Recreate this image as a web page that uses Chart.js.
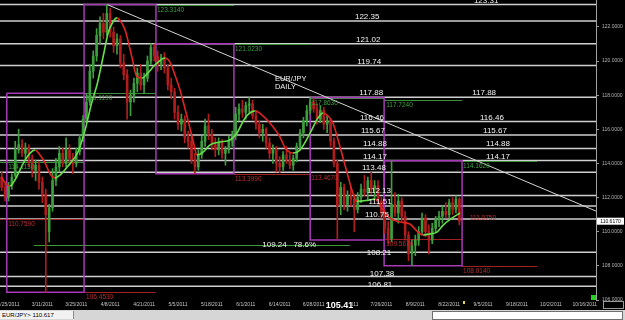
<!DOCTYPE html>
<html>
<head>
<meta charset="utf-8">
<script src="https://cdn.jsdelivr.net/npm/chart.js@4.4.1/dist/chart.umd.min.js"></script>
<style>
  html, body { margin: 0; padding: 0; background: #000; }
  #wrap { position: relative; width: 625px; height: 320px; overflow: hidden; background: #000; }
  #chart { display: block; }
  #status { position: absolute; left: 0; top: 310px; width: 625px; height: 10px; background: #d6d6d6;
            font: 6px "Liberation Sans", Arial, sans-serif; }
  #quote { position: absolute; left: 0; top: 1px; width: 71px; height: 8px; line-height: 8px; padding-left: 2px;
           background: #f2f2f2; border-right: 1px solid #8a8a8a; color: #000; }
  #panel { position: absolute; left: 432px; top: 1px; width: 189px; height: 7px; background: #fff; border: 1px solid #707070; }
</style>
</head>
<body>
<div id="wrap">
  <canvas id="chart" width="625" height="310"></canvas>
  <div id="status"><div id="quote">EUR/JPY&gt; 110.617</div><div id="panel"></div></div>
</div>
<script>
const dateTicks = ["2/25/2011", "3/11/2011", "3/25/2011", "4/8/2011", "4/21/2011", "5/5/2011", "5/18/2011",
  "6/1/2011", "6/14/2011", "6/28/2011", "7/12/2011", "7/26/2011", "8/9/2011", "8/22/2011", "9/5/2011",
  "9/18/2011", "10/2/2011", "10/16/2011"];
const priceTicks = [106, 108, 110, 112, 114, 116, 118, 120, 122];

// daily candles, one per bar
const opens = [113.2, 112.6, 112.0, 112.7, 113.3, 114.8, 115.1, 114.6, 114.9, 114.3, 113.6, 113.9, 112.9, 112.2, 110.0,
  111.4, 113.0, 113.8, 114.6, 114.0, 114.8, 114.3, 114.0, 114.7, 115.5, 116.6, 117.6, 119.4, 120.3, 121.5,
  122.2, 121.7, 122.8, 121.7, 120.9, 121.3, 119.9, 119.2, 117.6, 118.0, 118.7, 119.3, 118.6, 119.0, 120.0,
  120.8, 120.3, 119.8, 120.2, 119.6, 118.6, 118.2, 117.0, 116.3, 116.6, 115.5, 115.3, 114.2, 113.8, 114.5,
  115.3, 116.2, 115.7, 115.1, 114.8, 115.2, 114.6, 114.8, 115.3, 115.6, 116.9, 117.2, 117.0, 117.4, 117.5,
  116.8, 116.3, 115.8, 116.0, 115.2, 114.6, 114.8, 114.0, 113.8, 114.5, 114.2, 113.9, 114.3, 115.0, 115.8,
  116.5, 117.1, 117.6, 117.2, 116.6, 117.1, 116.3, 116.5, 115.3, 114.0, 111.5, 112.6, 111.6, 112.1, 111.9,
  111.3, 112.0, 112.5, 112.3, 113.0, 112.5, 112.7, 111.8, 111.1, 110.2, 109.6, 111.6, 111.1, 111.8, 110.9,
  109.8, 108.7, 109.2, 109.5, 110.0, 110.8, 110.0, 109.5, 110.2, 110.7, 110.9, 111.2, 111.0, 111.7, 111.3, 111.9];
const highs = [113.5, 112.8, 112.9, 113.4, 115.3, 116.0, 115.4, 115.2, 115.1, 114.5, 114.2, 114.1, 113.2, 112.5, 111.6,
  113.7, 114.3, 115.0, 114.9, 115.5, 115.1, 114.6, 114.9, 115.7, 116.8, 118.119, 119.8, 120.6, 121.9, 122.6,
  122.8, 123.314, 123.1, 122.0, 121.6, 121.5, 120.4, 119.5, 118.3, 119.0, 119.6, 119.8, 119.3, 120.3, 121.023,
  121.0, 120.6, 120.4, 120.5, 119.8, 119.0, 118.4, 117.4, 116.9, 116.8, 115.9, 115.6, 114.6, 114.8, 115.6,
  116.6, 116.9, 116.0, 115.5, 115.5, 115.4, 115.0, 115.6, 115.9, 117.3, 117.5, 117.7, 117.6, 117.863, 117.7,
  117.1, 116.5, 116.3, 116.1, 115.5, 115.1, 115.0, 114.4, 114.7, 115.0, 114.6, 114.5, 115.2, 116.0, 116.7,
  117.4, 117.863, 117.8, 117.5, 117.4, 117.3, 116.8, 116.6, 115.5, 114.2, 112.9, 112.8, 112.4, 112.6, 112.2,
  112.3, 112.8, 113.3, 113.2, 113.48, 113.0, 113.0, 112.0, 111.3, 110.6, 114.162, 112.3, 112.2, 112.0, 111.2,
  110.0, 109.5, 109.8, 110.3, 111.1, 111.0, 110.4, 110.5, 110.9, 111.2, 111.5, 111.7, 111.9, 112.0, 112.1, 112.0];
const lows = [112.4, 111.8, 111.8, 112.5, 113.2, 114.6, 114.4, 114.2, 113.8, 113.2, 113.0, 112.5, 111.7, 106.453, 109.4,
  111.2, 112.7, 113.5, 113.8, 113.8, 113.9, 113.4, 113.8, 114.5, 115.3, 116.4, 117.4, 119.0, 120.0, 121.0,
  121.3, 121.5, 121.4, 120.5, 120.4, 119.6, 118.9, 116.6, 116.8, 117.6, 118.2, 118.3, 118.1, 118.8, 119.8,
  120.0, 119.4, 119.5, 119.3, 118.3, 117.8, 116.6, 116.0, 115.9, 115.2, 114.9, 114.0, 113.399, 113.6, 114.3,
  115.0, 115.4, 114.8, 114.4, 114.5, 114.3, 113.9, 114.6, 115.0, 115.4, 116.5, 116.7, 116.6, 117.0, 116.6,
  116.0, 115.5, 115.3, 114.9, 114.3, 114.0, 113.5, 113.467, 113.6, 114.0, 113.7, 113.6, 114.1, 114.8, 115.5,
  116.2, 116.9, 117.0, 116.3, 116.4, 116.0, 115.8, 115.0, 113.8, 109.567, 111.0, 111.3, 111.2, 111.5, 110.0,
  111.1, 111.7, 112.1, 111.9, 112.2, 111.9, 111.6, 110.8, 109.9, 109.3, 109.4, 110.9, 110.5, 110.6, 109.5,
  108.3, 108.014, 108.6, 109.2, 109.8, 109.7, 108.7, 109.3, 110.0, 110.3, 110.5, 110.8, 110.8, 111.0, 111.1, 110.4];
const closes = [112.6, 112.0, 112.7, 113.2, 114.8, 115.1, 114.6, 114.9, 114.3, 113.6, 113.9, 112.9, 112.2, 111.0, 111.4,
  113.0, 113.8, 114.6, 114.0, 114.8, 114.3, 114.0, 114.7, 115.5, 116.6, 117.6, 119.4, 120.3, 121.5, 122.2,
  121.7, 122.8, 121.7, 120.9, 121.3, 119.9, 119.2, 117.6, 118.0, 118.7, 119.3, 118.6, 119.0, 120.0, 120.8,
  120.3, 119.8, 120.2, 119.6, 118.6, 118.2, 117.0, 116.3, 116.6, 115.5, 115.3, 114.2, 113.8, 114.5, 115.3,
  116.2, 115.7, 115.1, 114.8, 115.2, 114.6, 114.8, 115.3, 115.6, 116.9, 117.2, 117.0, 117.4, 117.5, 116.8,
  116.3, 115.8, 116.0, 115.2, 114.6, 114.8, 114.0, 113.8, 114.5, 114.2, 113.9, 114.3, 115.0, 115.8, 116.5,
  117.1, 117.6, 117.2, 116.6, 117.1, 116.3, 116.5, 115.3, 114.0, 111.5, 112.6, 111.6, 112.1, 111.9, 111.3,
  112.0, 112.5, 112.3, 113.0, 112.5, 112.7, 111.8, 111.1, 110.2, 109.6, 111.6, 111.1, 111.8, 110.9, 109.8,
  108.7, 109.2, 109.5, 110.0, 110.8, 110.0, 109.5, 110.2, 110.7, 110.9, 111.2, 111.0, 111.7, 111.3, 111.9, 110.617];

// smoothed average
const maBars = [0, 1, 2.4, 3.9, 5.4, 6.9, 8.4, 9.8, 11.3, 12.8, 14.3, 15.7, 17.2, 19.3, 22.5, 24.6, 26.6, 28.1, 29.9,
  31.4, 32.8, 34, 35.2, 36.4, 38.4, 39.9, 41.4, 42.9, 45.2, 48.2, 49.6, 51.1, 52.6, 54.7, 56.4, 57.6, 59.4, 61.4,
  64.4, 67.3, 69.4, 71.8, 74.7, 76.8, 79.1, 82.1, 83.6, 85.9, 88, 91, 93.3, 94.8, 96.3, 97.7, 99.8, 101.9, 103.3,
  104.8, 107.8, 110.1, 112.5, 114.5, 117.5, 120.4, 122.8, 124.3, 126.3, 128.4, 130.2, 132.8, 135.2];
const maValues = [113.21, 112.86, 112.68, 113.03, 113.62, 114.2, 114.61, 114.79, 114.5, 114.03, 113.38, 113.15, 113.32,
  113.79, 114.67, 115.96, 117.6, 118.6, 120.24, 121.65, 122.29, 122.53, 122.29, 121.82, 120.24, 119.07, 119.0, 119.25,
  119.77, 120.18, 119.95, 119.19, 118.31, 116.72, 115.38, 114.5, 114.67, 115.08, 115.26, 115.38, 115.79, 116.67, 117.08,
  116.84, 116.37, 115.55, 114.91, 114.61, 114.79, 115.79, 116.67, 116.96, 116.78, 116.37, 114.97, 113.44, 112.45,
  111.78, 111.84, 111.92, 111.27, 110.8, 110.57, 110.45, 109.98, 109.81, 109.87, 109.98, 110.39, 110.8, 111.1];

// white fibonacci levels
const fibValues = [123.31, 122.35, 121.02, 119.74, 117.88, 116.46, 115.67, 114.88, 114.17, 113.48, 112.13, 111.51,
  110.75, 108.8, 107.38, 106.81];
const fibTagText = ["123.31", "122.35", "121.02", "119.74", "117.88", "116.46", "115.67", "114.88", "114.17", "113.48",
  "112.13", "111.51", "110.75", "108.21", "107.38", "106.81", "117.88", "116.46", "115.67", "114.88", "114.17"];
const fibTagLevel = [123.31, 122.35, 121.02, 119.74, 117.88, 116.46, 115.67, 114.88, 114.17, 113.48, 112.13, 111.51,
  110.75, 108.5, 107.3, 106.65, 117.88, 116.46, 115.67, 114.88, 114.17];
const fibTagBar = [142.9, 107.8, 108.1, 108.4, 109.0, 109.2, 109.5, 110.1, 110.1, 109.8, 111.3, 111.6, 110.7, 111.3,
  112.2, 111.6, 142.3, 144.6, 145.5, 146.4, 146.4];

// swing high / low marks
const swingLevel = [114.113, 110.759, 118.119, 106.453, 123.314, 121.023, 113.399, 117.863, 113.467, 117.724, 109.567,
  114.162, 108.014, 111.075];
const swingFrom = [-0.5, -0.5, 24.3, 24.3, 45.5, 68.5, 68.5, 91, 91, 112.8, 112.8, 135.8, 135.8, 135.8];
const swingTo = [24.3, 24.3, 45.5, 45.5, 68.5, 91, 91, 112.8, 91, 135.8, 135.8, 157.9, 157.9, 135.8];
const swingIsHigh = [true, false, true, false, true, true, false, true, false, true, false, true, false, false];
const swingTagBar = [1.9, 1.9, 24.9, 24.9, 45.8, 68.8, 68.8, 91.3, 91.3, 113.4, 113.4, 136.1, 136.1, 138.1];

// range boxes (bar, price)
const boxPaths = [
  [[1.5, 118.119], [24.3, 118.119], [24.3, 106.453], [1.5, 106.453], [1.5, 118.119]],
  [[24.3, 118.119], [24.3, 123.314], [45.5, 123.314], [45.5, 113.399], [68.5, 113.399], [68.5, 121.023], [45.5, 121.023]],
  [[91, 117.863], [112.8, 117.863], [112.8, 109.51], [91, 109.51], [91, 117.863]],
  [[112.8, 109.51], [112.8, 114.162], [135.8, 114.162], [135.8, 108.014], [112.8, 108.014], [112.8, 109.51]]
];
const trendLine = [[31.1, 123.314], [175.3, 111.21]];
const retraceLevel = 109.24;
const retraceSpan = [9.5, 102.7];
const retraceText = "109.24   78.6%";
const retraceTagBar = 84.8;
const titleLines = ["EUR/JPY", "DAILY"];
const titleBar = 80.6;
const titleLevel = [118.95, 118.48];
const lastPrice = 110.617;

function main() {
  const family = '"Liberation Sans", Arial, sans-serif';
  const up = "#3d9e3d";
  const down = "#b11d1d";

  const bodies = opens.map((o, i) => ({ x: i, y: [o, closes[i]] }));
  const wicks = lows.map((l, i) => ({ x: i, y: [l, highs[i]] }));
  const colours = opens.map((o, i) => (closes[i] >= o ? up : down));
  const ma = maBars.map((b, i) => ({ x: b, y: maValues[i] }));

  const overlay = {
    id: "overlay",
    beforeDatasetsDraw(chart) {
      const { ctx, chartArea: a, scales: { x, y } } = chart;
      ctx.save();
      ctx.beginPath();
      ctx.rect(a.left, a.top, a.width, a.height);
      ctx.clip();

      ctx.strokeStyle = "#cfcfcf";
      ctx.lineWidth = 1.5;
      fibValues.forEach((v) => {
        const py = y.getPixelForValue(v);
        ctx.beginPath();
        ctx.moveTo(a.left, py);
        ctx.lineTo(a.right, py);
        ctx.stroke();
      });

      ctx.lineWidth = 1;
      swingLevel.forEach((v, k) => {
        const py = Math.round(y.getPixelForValue(v)) + 0.5;
        ctx.strokeStyle = swingIsHigh[k] ? "#3a8f3a" : "#a02222";
        ctx.beginPath();
        ctx.moveTo(x.getPixelForValue(swingFrom[k]), py);
        ctx.lineTo(x.getPixelForValue(swingTo[k]), py);
        ctx.stroke();
      });

      const ry = Math.round(y.getPixelForValue(retraceLevel)) + 0.5;
      ctx.strokeStyle = "#3a9a3a";
      ctx.beginPath();
      ctx.moveTo(x.getPixelForValue(retraceSpan[0]), ry);
      ctx.lineTo(x.getPixelForValue(retraceSpan[1]), ry);
      ctx.stroke();

      ctx.strokeStyle = "#a63ab6";
      ctx.lineWidth = 1.5;
      boxPaths.forEach((path) => {
        ctx.beginPath();
        path.forEach(([b, p], n) => {
          const px = x.getPixelForValue(b);
          const py = y.getPixelForValue(p);
          if (n === 0) ctx.moveTo(px, py);
          else ctx.lineTo(px, py);
        });
        ctx.stroke();
      });

      ctx.strokeStyle = "#d4d4d4";
      ctx.lineWidth = 1;
      ctx.beginPath();
      ctx.moveTo(x.getPixelForValue(trendLine[0][0]), y.getPixelForValue(trendLine[0][1]));
      ctx.lineTo(x.getPixelForValue(trendLine[1][0]), y.getPixelForValue(trendLine[1][1]));
      ctx.stroke();
      ctx.restore();
    },
    afterDatasetsDraw(chart) {
      const { ctx, chartArea: a, scales: { x, y } } = chart;
      ctx.save();

      ctx.font = `8px ${family}`;
      ctx.fillStyle = "#f2f2f2";
      ctx.textAlign = "center";
      ctx.textBaseline = "alphabetic";
      fibTagText.forEach((t, k) => {
        ctx.fillText(t, x.getPixelForValue(fibTagBar[k]), y.getPixelForValue(fibTagLevel[k]) - 2);
      });

      ctx.textBaseline = "middle";
      ctx.fillText(retraceText, x.getPixelForValue(retraceTagBar), y.getPixelForValue(retraceLevel));

      ctx.font = `6.5px ${family}`;
      ctx.textAlign = "left";
      ctx.textBaseline = "top";
      swingLevel.forEach((v, k) => {
        ctx.fillStyle = swingIsHigh[k] ? "#3fa03f" : "#b83030";
        ctx.fillText(v.toFixed(4), x.getPixelForValue(swingTagBar[k]), y.getPixelForValue(v) + 2);
      });

      ctx.font = `7.5px ${family}`;
      ctx.fillStyle = "#f0f0f0";
      ctx.textBaseline = "middle";
      titleLines.forEach((t, k) => {
        ctx.fillText(t, x.getPixelForValue(titleBar), y.getPixelForValue(titleLevel[k]));
      });

      // last price tag on the axis
      const py = y.getPixelForValue(lastPrice);
      ctx.fillStyle = "#ffffff";
      ctx.fillRect(a.right + 1, py - 3.5, 27, 7);
      ctx.fillStyle = "#000";
      ctx.font = `5px ${family}`;
      ctx.textAlign = "center";
      ctx.fillText(lastPrice.toFixed(4), a.right + 14.5, py);

      // crosshair readout on the date row
      ctx.fillStyle = "#000";
      ctx.fillRect(327, 301, 25, 9);
      ctx.fillStyle = "#ffffff";
      ctx.font = `bold 9px ${family}`;
      ctx.fillText("105.41", 339.5, 305.5);

      ctx.fillStyle = "#22d022";
      ctx.fillRect(a.right - 5, a.bottom - 5, 5, 5);
      ctx.fillStyle = "#e8d048";
      ctx.fillRect(463, a.bottom + 1, 2, 3);
      ctx.strokeStyle = "#9a9a9a";
      ctx.strokeRect(603.5, 301.5, 20, 7);
      ctx.restore();
    }
  };

  window.addEventListener("DOMContentLoaded", () => {
    const ctx = document.getElementById("chart").getContext("2d");
    new Chart(ctx, {
      type: "bar",
      data: {
        datasets: [
          {
            type: "line",
            data: ma,
            borderColor: "#66e04a",
            borderWidth: 1.6,
            pointRadius: 0,
            cubicInterpolationMode: "monotone",
            segment: {
              borderColor: (c) => (c.p1.parsed.y >= c.p0.parsed.y ? "#66e04a" : "#e02424")
            }
          },
          { data: bodies, backgroundColor: colours, barThickness: 2, grouped: false, minBarLength: 1 },
          { data: wicks, backgroundColor: colours, barThickness: 1, grouped: false }
        ]
      },
      options: {
        responsive: false,
        animation: false,
        devicePixelRatio: 1,
        layout: { padding: 0 },
        plugins: { legend: { display: false }, tooltip: { enabled: false } },
        scales: {
          x: {
            type: "linear",
            min: -0.5,
            max: 175.3,
            offset: false,
            afterBuildTicks: (s) => { s.ticks = dateTicks.map((_, k) => ({ value: 2 + 10 * k })); },
            afterFit: (s) => { s.height = 10; s.paddingLeft = 0; s.paddingRight = 0; },
            ticks: {
              autoSkip: false,
              maxRotation: 0,
              color: "#c4c4c4",
              font: { size: 5, family },
              padding: 2,
              callback: (v, k) => dateTicks[k]
            },
            grid: { display: false, drawTicks: false },
            border: { display: false }
          },
          y: {
            position: "right",
            min: 106,
            max: 123.58,
            afterBuildTicks: (s) => { s.ticks = priceTicks.map((v) => ({ value: v })); },
            afterFit: (s) => { s.width = 29; s.paddingTop = 0; s.paddingBottom = 0; },
            ticks: { color: "#b4b4b4", font: { size: 5, family }, padding: 3, callback: (v) => v.toFixed(4) },
            grid: { drawOnChartArea: false, color: "#9a9a9a", tickLength: 3 },
            border: { color: "#a0a0a0" }
          }
        }
      },
      plugins: [overlay]
    });
  });
}

main();
</script>
</body>
</html>
